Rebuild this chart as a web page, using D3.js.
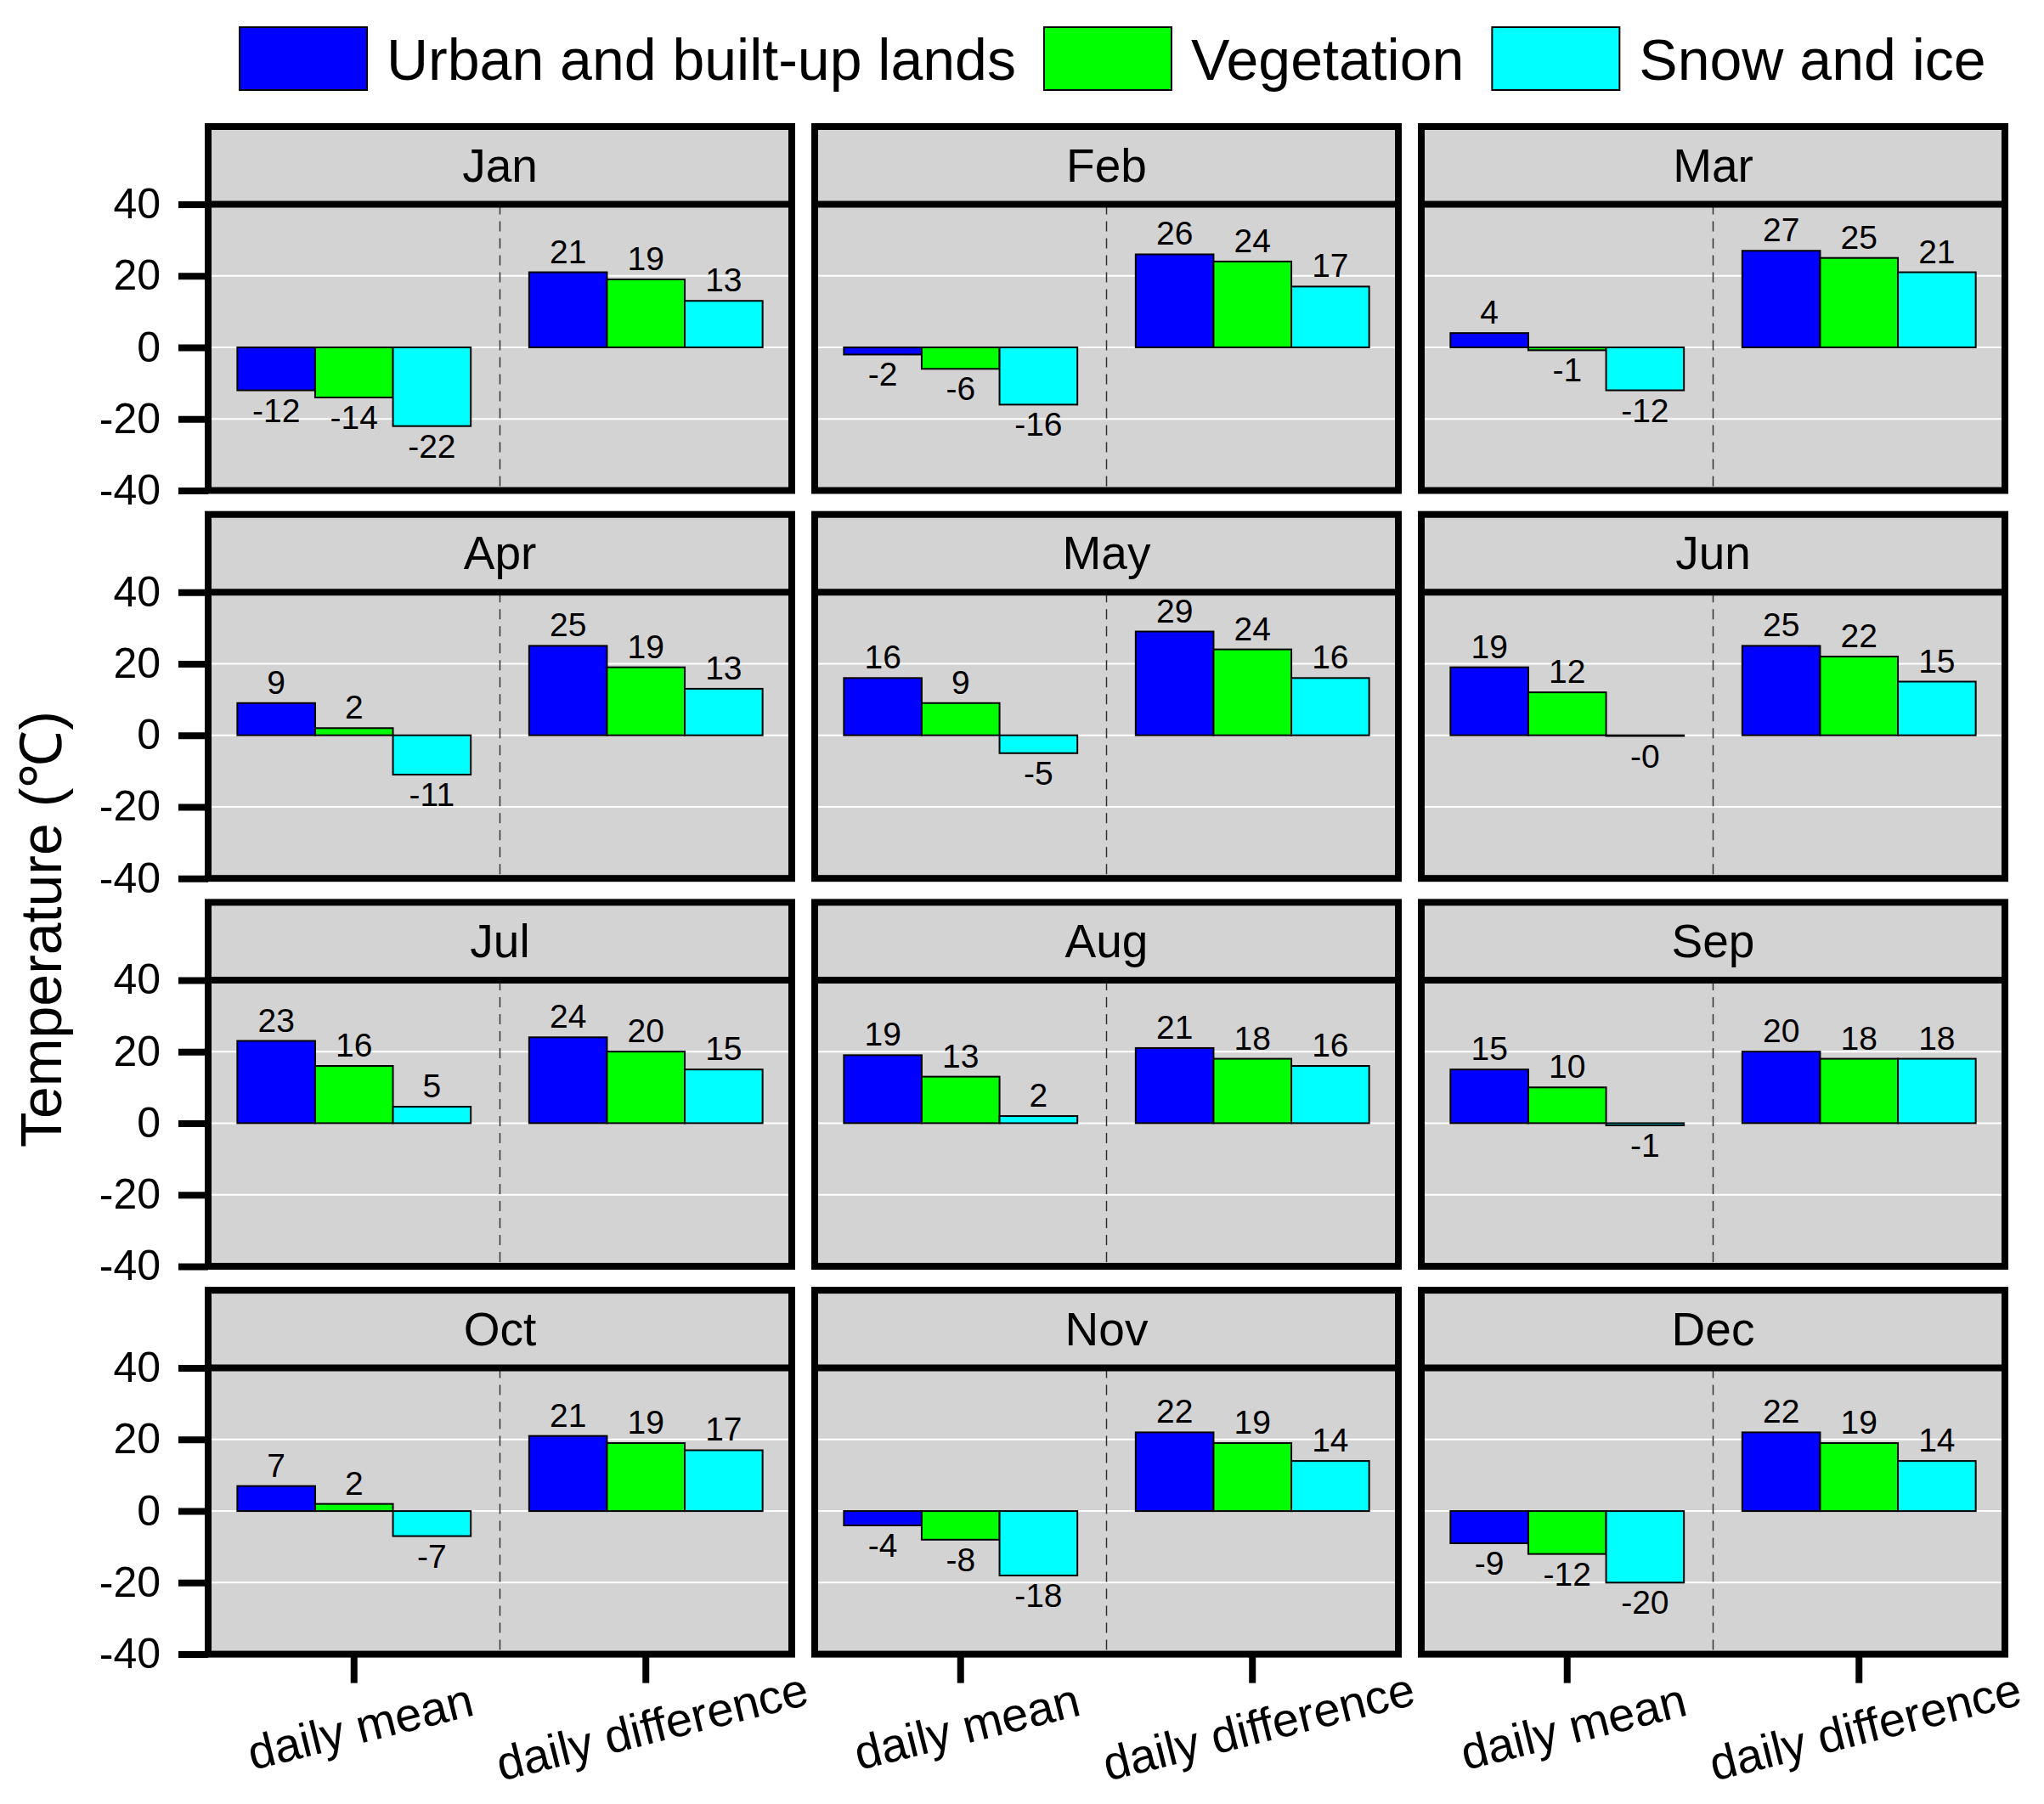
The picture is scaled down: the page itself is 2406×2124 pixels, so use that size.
<!DOCTYPE html>
<html>
<head>
<meta charset="utf-8">
<script src="https://cdn.jsdelivr.net/npm/d3@7"></script>
<style>
  body { margin: 0; background: #fff; }
  svg { display: block; font-family: "Liberation Sans", Arial, sans-serif; }
</style>
</head>
<body>
<div id="chart"></div>
<script>
// data
var months = ['Jan', 'Feb', 'Mar', 'Apr', 'May', 'Jun', 'Jul', 'Aug', 'Sep', 'Oct', 'Nov', 'Dec'];
var categories = ['daily mean', 'daily difference'];
var seriesNames = ['Urban and built-up lands', 'Vegetation', 'Snow and ice'];
var seriesColors = ['#0000ff', '#00ff00', '#00ffff'];

var urbanMean = [-12, -2, 4, 9, 16, 19, 23, 19, 15, 7, -4, -9];
var vegMean   = [-14, -6, -0.8, 2, 9, 12, 16, 13, 10, 2, -8, -12];
var snowMean  = [-22, -16, -12, -11, -5, -0.2, 4.6, 2, -0.6, -7, -18, -20];
var urbanDiff = [21, 26, 27, 25, 29, 25, 24, 21, 20, 21, 22, 22];
var vegDiff   = [19, 24, 25, 19, 24, 22, 20, 18, 18, 19, 19, 19];
var snowDiff  = [13, 17, 21, 13, 16, 15, 15, 16, 18, 17, 14, 14];

var yTicks = [-40, -20, 0, 20, 40];
var gridTicks = [-20, 0, 20];

// layout
var width = 2406, height = 2124;
var panelLeft = 245, panelStrideX = 714, panelW = 687;
var panelTop = 149, panelStrideY = 456.7, headerH = 91.5, plotH = 337;
var borderW = 8;
var mainFont = '"Liberation Sans", Arial, sans-serif';

window.onload = function() {
    render();
};

function fmt(v) {
    var r = Math.abs(Math.round(v));
    return (v < 0 ? '-' : '') + r;
}

function render() {
    var svg = d3.select('#chart').append('svg')
        .attr('width', width)
        .attr('height', height);

    makeLegend(svg);

    var y = d3.scaleLinear().domain([-40, 40]).range([plotH, 0]);
    var x0 = d3.scaleBand().domain(categories).range([0, panelW])
        .paddingInner(0.2).paddingOuter(0.1);
    var x1 = d3.scaleBand().domain(seriesNames).range([0, x0.bandwidth()]);

    var meanSeries = [urbanMean, vegMean, snowMean];
    var diffSeries = [urbanDiff, vegDiff, snowDiff];

    months.forEach(function(m, i) {
        var col = i % 3, row = Math.floor(i / 3);
        var g = svg.append('g')
            .attr('transform', 'translate(' + (panelLeft + col * panelStrideX) + ',' + (panelTop + row * panelStrideY) + ')');

        var rows = [];
        seriesNames.forEach(function(s, k) {
            rows.push({ cat: categories[0], series: s, k: k, value: meanSeries[k][i] });
            rows.push({ cat: categories[1], series: s, k: k, value: diffSeries[k][i] });
        });
        makePanel(g, m, rows, x0, x1, y, col === 0, row === 3);
    });

    // y axis title
    svg.append('text')
        .attr('transform', 'translate(72,1094) rotate(-90)')
        .attr('text-anchor', 'middle')
        .style('font-size', '68px')
        .text('Temperature (℃)');
}

function makeLegend(svg) {
    var x = 282;
    seriesNames.forEach(function(s, k) {
        svg.append('rect')
            .attr('x', x).attr('y', 32)
            .attr('width', 150).attr('height', 74)
            .attr('fill', seriesColors[k])
            .attr('stroke', '#000').attr('stroke-width', 2);
        var t = svg.append('text')
            .attr('x', x + 173).attr('y', 94)
            .style('font-size', '68px')
            .text(s);
        x = x + 173 + t.node().getComputedTextLength() + 33;
    });
}

function makePanel(g, month, rows, x0, x1, y, showY, showX) {
    // backgrounds
    g.append('rect')
        .attr('x', 0).attr('y', 0)
        .attr('width', panelW).attr('height', headerH + plotH)
        .attr('fill', '#d3d3d3');

    g.append('text')
        .attr('x', panelW / 2).attr('y', headerH / 2 + 19)
        .attr('text-anchor', 'middle')
        .style('font-size', '55px')
        .text(month);

    var plot = g.append('g').attr('transform', 'translate(0,' + headerH + ')');

    // white grid lines
    plot.selectAll('.grid').data(gridTicks).enter().append('line')
        .attr('x1', 0).attr('x2', panelW)
        .attr('y1', function(d) { return y(d); })
        .attr('y2', function(d) { return y(d); })
        .attr('stroke', '#fff').attr('stroke-width', 2);

    // dashed separator between categories
    plot.append('line')
        .attr('x1', panelW / 2).attr('x2', panelW / 2)
        .attr('y1', 0).attr('y2', plotH)
        .attr('stroke', '#333').attr('stroke-width', 1.5)
        .attr('stroke-dasharray', '12 8');

    // bars
    plot.selectAll('.bar').data(rows).enter().append('rect')
        .attr('x', function(d) { return x0(d.cat) + x1(d.series); })
        .attr('width', x1.bandwidth())
        .attr('y', function(d) { return y(Math.max(0, d.value)); })
        .attr('height', function(d) { return Math.abs(y(d.value) - y(0)); })
        .attr('fill', function(d) { return seriesColors[d.k]; })
        .attr('stroke', '#000').attr('stroke-width', 2);

    // value labels
    plot.selectAll('.lbl').data(rows).enter().append('text')
        .attr('x', function(d) { return x0(d.cat) + x1(d.series) + x1.bandwidth() / 2; })
        .attr('y', function(d) { return d.value >= 0 ? y(d.value) - 11 : y(d.value) + 37; })
        .attr('text-anchor', 'middle')
        .style('font-size', '39px')
        .text(function(d) { return fmt(d.value); });

    // borders
    g.append('rect')
        .attr('x', 0).attr('y', 0)
        .attr('width', panelW).attr('height', headerH + plotH)
        .attr('fill', 'none')
        .attr('stroke', '#000').attr('stroke-width', borderW);
    g.append('line')
        .attr('x1', 0).attr('x2', panelW)
        .attr('y1', headerH).attr('y2', headerH)
        .attr('stroke', '#000').attr('stroke-width', borderW);

    if (showY) {
        var yAxis = plot.append('g')
            .call(d3.axisLeft(y).tickValues(yTicks).tickSize(35).tickPadding(21)
                .tickFormat(function(d) { return fmt(d); }));
        yAxis.select('.domain').remove();
        yAxis.selectAll('line').attr('stroke', '#000').attr('stroke-width', borderW);
        yAxis.selectAll('text')
            .attr('fill', '#000')
            .style('font-family', mainFont)
            .style('font-size', '50px');
    }

    if (showX) {
        var xAxis = plot.append('g')
            .attr('transform', 'translate(0,' + plotH + ')')
            .call(d3.axisBottom(x0).tickSize(34).tickSizeOuter(0));
        xAxis.select('.domain').remove();
        xAxis.selectAll('line').attr('stroke', '#000').attr('stroke-width', borderW);
        xAxis.selectAll('text')
            .attr('fill', '#000')
            .attr('y', 0).attr('dy', 0)
            .attr('transform', 'translate(12,104) rotate(-14)')
            .attr('text-anchor', 'middle')
            .style('font-family', mainFont)
            .style('font-size', '56px');
    }
}
</script>
</body>
</html>
